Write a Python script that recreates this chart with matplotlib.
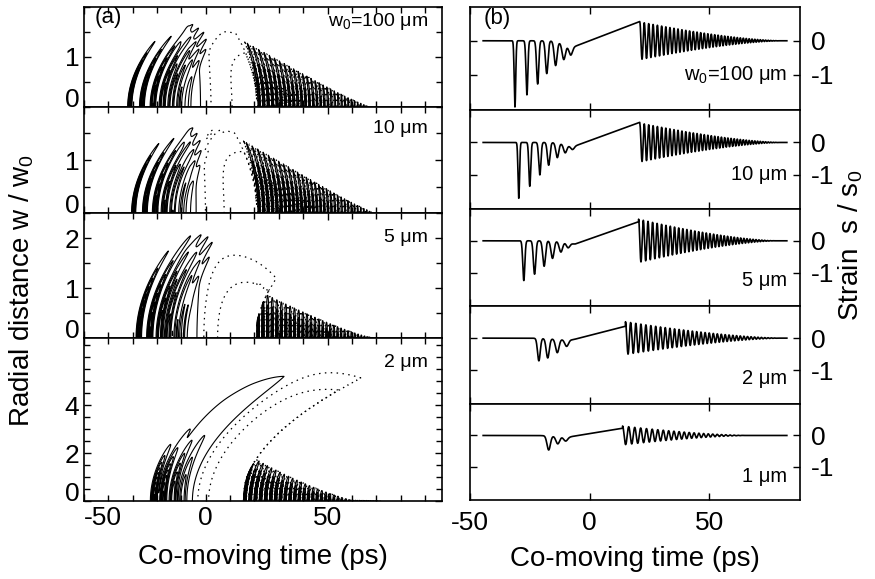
import numpy as np
import matplotlib.pyplot as plt
from matplotlib.ticker import MultipleLocator

plt.rcParams['font.family'] = ['Liberation Sans', 'DejaVu Sans']
plt.rcParams['mathtext.fontset'] = 'custom'
plt.rcParams['mathtext.rm'] = 'Liberation Sans'
plt.rcParams['axes.unicode_minus'] = False

# ---- values ------------------------------------------------------------
spots_a = ['w$_\\mathregular{0}$=100 μm', '10 μm', '5 μm', '2 μm']
spots_b = ['w$_\\mathregular{0}$=100 μm', '10 μm', '5 μm', '2 μm', '1 μm']

# leading compressive dips on axis: centre (ps), depth (s/s0), width (ps)
dip_t = [[-31.2, -26.2, -21.7, -17.9, -14.2, -10.8, -7.9],
         [-29.6, -25.0, -20.8, -17.1, -13.5, -10.2, -7.2],
         [-27.5, -23.0, -19.0, -15.5, -12.0, -9.0],
         [-21.2, -17.5, -13.5, -9.6],
         [-17.1, -13.3, -10.0]]
dip_s = [[-1.96, -1.60, -1.28, -0.97, -0.71, -0.45, -0.24],
         [-1.72, -1.35, -1.00, -0.70, -0.45, -0.25, -0.10],
         [-1.25, -1.05, -0.80, -0.55, -0.33, -0.15],
         [-0.70, -0.60, -0.42, -0.21],
         [-0.45, -0.24, -0.14]]
dip_w = [[0.45, 0.55, 0.65, 0.75, 0.85, 0.95, 1.0],
         [0.45, 0.55, 0.65, 0.75, 0.85, 0.95, 1.0],
         [0.6, 0.7, 0.8, 0.9, 1.0, 1.0],
         [0.8, 0.9, 1.0, 1.1],
         [1.0, 1.1, 1.2]]

# slow ramp between the two wave trains
ramp_t0 = [-7.0, -6.5, -6.0, -7.0, -8.0]
ramp_s0 = [-0.19, -0.12, -0.10, -0.05, -0.04]
ramp_t1 = [21.0, 21.0, 20.5, 15.0, 13.8]
ramp_s1 = [0.57, 0.62, 0.60, 0.37, 0.23]
ramp_tail = [5.0, 5.0, 5.0, 10.0, 8.0]

# trailing ringing: first amplitude, end time, first and last period (ps)
ring_amp = [0.56, 0.60, 0.68, 0.51, 0.30]
ring_end = [80.0, 80.0, 78.0, 80.0, 66.0]
ring_p0 = [1.9, 1.9, 2.0, 2.2, 2.6]
ring_p1 = [1.0, 1.0, 1.1, 1.3, 1.6]

# (a): radial reach in units of w0, wavefront delay in ps per w0^2
finger_h0 = [0.7, 0.7, 0.9, 1.2]
finger_h1 = [1.15, 1.15, 1.4, 1.8]
ramp_w0 = [1.55, 1.6, 1.85, 5.3]
ramp_w1 = [1.2, 1.2, 0.92, 4.5]
ramp_p = [4, 4, 4, 8]
ring_w = [0.85, 0.85, 0.55, 1.0]
ring_fade = [70.0, 72.0, 68.0, 60.0]
lean_dip = [6.0, 6.0, 4.0, 1.2]
lean_ramp0 = [0.0, 0.0, 0.5, 1.45]
lean_ramp1 = [-4.0, -4.0, 6.0, 1.85]
lean_ring = [-3.0, -3.0, 0.0, 1.3]

ymax_a = [2.0, 2.0, 2.5, 6.8]
ylab_a = [[0, 1], [0, 1], [0, 1, 2], [0, 2, 4]]


def ramp(t, k):
    t0, s0, t1, s1 = ramp_t0[k], ramp_s0[k], ramp_t1[k], ramp_s1[k]
    lin = s0 + (s1 - s0) * (t - t0) / (t1 - t0)
    pre = s0 * np.exp(-((t - t0) / ramp_tail[k]) ** 2)
    return np.where(t < t0, pre, np.where(t <= t1, lin, 0.0))


def ringing(t, k):
    t1, te = ramp_t1[k], ring_end[k]
    p0, p1 = ring_p0[k], ring_p1[k]
    u = np.clip((t - t1) / (te - t1), 0, 1)
    phase = 2 * np.pi * (te - t1) / (p1 - p0) * np.log((p0 + (p1 - p0) * u) / p0)
    amp = ring_amp[k] * (1 - u) ** 1.5
    return np.where(t > t1, amp * np.cos(phase), 0.0)


def dips(t, k):
    out = np.zeros_like(t)
    for tc, s, w in zip(dip_t[k], dip_s[k], dip_w[k]):
        out += s * np.exp(-((t - tc) / w) ** 2)
    return out


def axial(t, k):
    return dips(t, k) + ramp(t, k) + ringing(t, k)


def field(t, r, k):
    r2 = r ** 2
    f = np.zeros(np.broadcast(t, r).shape)
    # compressive fingers, leaning with radius
    tf = t - lean_dip[k] * r2
    n = len(dip_t[k])
    for i, (tc, s, w) in enumerate(zip(dip_t[k], dip_s[k], dip_w[k])):
        h = finger_h0[k] + (finger_h1[k] - finger_h0[k]) * i / max(n - 1, 1)
        f += s * np.exp(-((tf - tc) / w) ** 2) * np.exp(-(r / h) ** 2)
    # ramp, with a delay that changes along the ramp
    t0, t1 = ramp_t0[k], ramp_t1[k]
    g = (lean_ramp1[k] - lean_ramp0[k]) / (t1 - t0)
    tr = (t - lean_ramp0[k] * r2 + g * t0 * r2) / np.maximum(1 + g * r2, 0.2)
    frac = np.clip((tr - t0) / (t1 - t0), 0, 1)
    rw = ramp_w0[k] + (ramp_w1[k] - ramp_w0[k]) * frac
    f += ramp(tr, k) * np.exp(-(r / rw) ** ramp_p[k])
    # trailing ringing
    to = t - lean_ring[k] * r2
    fade = np.clip((ring_fade[k] - to) / (ring_fade[k] - t1), 0, 1)
    ow = ring_w[k] * fade + 0.02
    f += ringing(to, k) * np.exp(-(r / ow) ** 2)
    return f


W, H = 875, 579
fig = plt.figure(figsize=(W / 100, H / 100), dpi=100)


def box(x0, x1, y0, y1):
    return [x0 / W, 1 - y1 / H, (x1 - x0) / W, (y1 - y0) / H]


tick_kw = dict(direction='in', top=True, right=True, labelsize=19, length=5, width=1)

# ---- (a) contour maps ---------------------------------------------------
rows_a = [7, 107, 213, 338, 501]
neg_levels = [-0.95, -0.8, -0.65, -0.5, -0.38, -0.27, -0.17, -0.09, -0.03]
pos_levels = [0.03, 0.15]
t = np.linspace(-50, 97, 1500)
for k in range(4):
    ax = fig.add_axes(box(84, 442, rows_a[k], rows_a[k + 1]))
    r = np.linspace(0, ymax_a[k], 340)
    T, R = np.meshgrid(t, r)
    F = field(T, R, k) / np.abs(axial(t, k)).max()
    ax.contour(T, R, F, levels=neg_levels, colors='k', linewidths=0.8,
               linestyles='solid')
    ax.contour(T, R, F, levels=pos_levels, colors='k', linewidths=0.9,
               linestyles=[(0, (1.2, 3.5))])
    ax.set_xlim(-50, 97)
    ax.set_ylim(0, ymax_a[k])
    ax.set_xticks([-50, 0, 50])
    ax.xaxis.set_minor_locator(MultipleLocator(10))
    ax.set_yticks(ylab_a[k], labels=[str(v) for v in ylab_a[k]])
    ax.yaxis.set_minor_locator(MultipleLocator(0.5))
    ax.tick_params(which='both', **tick_kw)
    ax.tick_params(which='minor', length=4)
    ax.get_yticklabels()[0].set_verticalalignment('baseline')
    ax.text(0.96, [0.85, 0.8, 0.8, 0.85][k], spots_a[k], transform=ax.transAxes,
            ha='right', va='center', fontsize=14)
    if k == 0:
        ax.text(0.03, 0.89, '(a)', transform=ax.transAxes, ha='left',
                va='center', fontsize=16)
    if k < 3:
        ax.tick_params(labelbottom=False)
    else:
        ax.set_xticks([-50, 0, 50], labels=['-50', '0', '50'])
        ax.get_xticklabels()[0].set_horizontalalignment('left')
        ax.set_xlabel('Co-moving time (ps)', fontsize=20, labelpad=10)
    for s in ax.spines.values():
        s.set_linewidth(1.2)

fig.text(0.025, 1 - 290 / H, 'Radial distance w / w$_\\mathregular{0}$', rotation=90,
         ha='center', va='center', fontsize=20)

# ---- (b) axial strain traces ------------------------------------------
rows_b = [7, 110, 209, 306, 404, 500]
tb = np.linspace(-44.5, 82.5, 4000)
for k in range(5):
    ax = fig.add_axes(box(470, 800, rows_b[k], rows_b[k + 1]))
    ax.plot(tb, axial(tb, k), color='k', lw=1.2)
    ax.set_xlim(-50, 88)
    ax.set_ylim(-2.05, 1.0)
    ax.set_xticks([-50, 0, 50])
    ax.set_yticks([-1, 0])
    ax.tick_params(which='both', **tick_kw)
    ax.tick_params(labelleft=False, labelright=True, pad=8)
    ax.text(0.96, [-1.0, -1.0, -1.25, -1.25, -1.3][k], spots_b[k],
            transform=ax.get_yaxis_transform(), ha='right', va='center', fontsize=14.5)
    if k == 0:
        ax.text(0.04, 0.89, '(b)', transform=ax.transAxes, ha='left',
                va='center', fontsize=16)
    if k < 4:
        ax.tick_params(labelbottom=False)
    else:
        ax.set_xlabel('Co-moving time (ps)', fontsize=20, labelpad=8)
    for s in ax.spines.values():
        s.set_linewidth(1.2)

fig.text(0.972, 1 - 245 / H, 'Strain  s / s$_\\mathregular{0}$', rotation=90,
         ha='center', va='center', fontsize=20)

fig.savefig('out.png', dpi=100)
